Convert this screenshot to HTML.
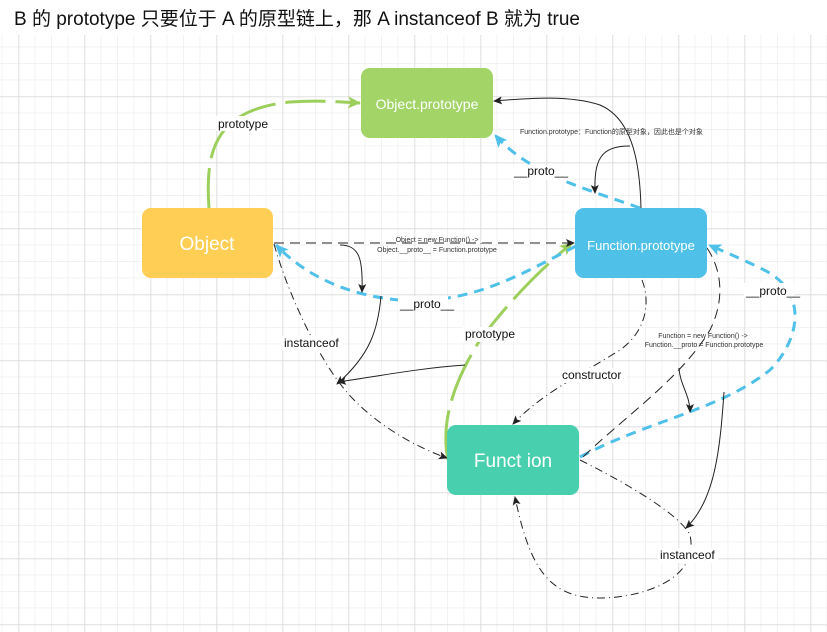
<!DOCTYPE html>
<html><head><meta charset="utf-8"><style>
html,body{margin:0;padding:0;background:#fff;width:827px;height:632px;overflow:hidden}
svg{display:block}
text{font-family:"Liberation Sans","Noto Sans CJK SC",sans-serif}
</style></head><body>
<svg width="827" height="632" viewBox="0 0 827 632" xmlns="http://www.w3.org/2000/svg">
<defs>
<pattern id="minor" x="2.2" y="14.2" width="16.5" height="16.5" patternUnits="userSpaceOnUse">
<path d="M16.5 0V16.5M0 16.5H16.5" stroke="#e6e6e6" stroke-width="1" fill="none"/></pattern>
<pattern id="major" x="18.7" y="30.7" width="66" height="66" patternUnits="userSpaceOnUse">
<path d="M0 0V66M0 0H66" stroke="#d4d4d4" stroke-width="1" fill="none"/></pattern>
<marker id="ab" markerWidth="10" markerHeight="10" refX="8" refY="5" orient="auto" markerUnits="userSpaceOnUse"><path d="M0,1 L9,5 L0,9 L2,5z" fill="#222"/></marker>
<marker id="ag" markerWidth="14" markerHeight="14" refX="12" refY="7" orient="auto" markerUnits="userSpaceOnUse"><path d="M0,1 L13,7 L0,13 L3,7z" fill="#9ccf5c"/></marker>
<marker id="ac" markerWidth="14" markerHeight="14" refX="12" refY="7" orient="auto" markerUnits="userSpaceOnUse"><path d="M0,1 L13,7 L0,13 L3,7z" fill="#4fc0e8"/></marker>
</defs>
<rect x="0" y="35" width="827" height="597" fill="url(#minor)"/>
<rect x="0" y="35" width="827" height="597" fill="url(#major)"/>
<text x="14" y="25" font-size="19" fill="#111">B 的 prototype 只要位于 A 的原型链上，那 A instanceof B 就为 true</text>

<!-- green prototype Object -> Object.prototype -->
<path d="M209,208 C205,150 215,110 290,102 C320,100 340,102 360,103" stroke="#9ccf5c" stroke-width="3" fill="none" stroke-dasharray="40,10" marker-end="url(#ag)"/>
<!-- green prototype Function -> Function.prototype -->
<path d="M448,460 C440,420 455,380 480,340 C510,300 540,270 572,243" stroke="#9ccf5c" stroke-width="3" fill="none" stroke-dasharray="50,10" marker-end="url(#ag)"/>

<!-- black dashed Object -> Function.prototype -->
<path d="M274,243 L574,243" stroke="#222" stroke-width="1" stroke-dasharray="10,6" fill="none" marker-end="url(#ab)"/>
<!-- blue proto Object -> Function.prototype -->
<path d="M576,246 C520,275 470,305 400,300 C340,295 300,270 276,245" stroke="#4fc0e8" stroke-width="3" stroke-dasharray="10,7" fill="none" marker-end="url(#ac)"/>
<!-- blue proto Function.prototype -> Object.prototype -->
<path d="M640,208 C590,190 530,175 495,135" stroke="#4fc0e8" stroke-width="3" stroke-dasharray="10,7" fill="none" marker-end="url(#ac)"/>
<!-- blue proto Function -> Function.prototype -->
<path d="M580,457 C650,420 720,410 770,370 C800,340 810,290 760,268 C740,258 720,250 709,245" stroke="#4fc0e8" stroke-width="3" stroke-dasharray="10,7" fill="none" marker-end="url(#ac)"/>

<!-- black Function.prototype -> Object.prototype -->
<path d="M641,208 C640,170 635,120 600,105 C570,95 530,98 494,101" stroke="#222" stroke-width="1" fill="none" marker-end="url(#ab)"/>
<path d="M630,146 C600,146 594,160 595,193" stroke="#222" stroke-width="1" fill="none" marker-end="url(#ab)"/>
<!-- small black curves -->
<path d="M340,245 C360,245 363,260 362,292" stroke="#222" stroke-width="1" fill="none" marker-end="url(#ab)"/>
<path d="M381,296 C378,330 370,355 337,384" stroke="#222" stroke-width="1" fill="none" marker-end="url(#ab)"/>
<path d="M465,365 C420,368 380,376 338,382" stroke="#222" stroke-width="1" fill="none" marker-end="url(#ab)"/>
<!-- instanceof Object -> Function -->
<path d="M274,244 C290,300 320,360 345,390 C370,420 410,445 447,458" stroke="#222" stroke-width="1" stroke-dasharray="8,4,1,4" fill="none" marker-end="url(#ab)"/>
<!-- constructor -->
<path d="M642,280 C650,300 648,330 620,350 C580,375 540,395 513,424" stroke="#222" stroke-width="1" stroke-dasharray="8,4,1,4" fill="none" marker-end="url(#ab)"/>
<!-- dashed Function.prototype right -> Function -->
<path d="M707,248 C722,270 725,300 710,330 C680,380 620,420 580,460" stroke="#222" stroke-width="1" stroke-dasharray="10,6" fill="none"/>
<path d="M679,368 C680,385 690,395 690,412" stroke="#222" stroke-width="1" fill="none" marker-end="url(#ab)"/>
<path d="M724,392 C720,450 715,500 686,528" stroke="#222" stroke-width="1" fill="none" marker-end="url(#ab)"/>
<!-- instanceof Function loop -->
<path d="M580,460 C630,485 680,515 690,535 C700,580 640,598 600,598 C550,598 530,570 515,497" stroke="#222" stroke-width="1" stroke-dasharray="8,4,1,4" fill="none" marker-end="url(#ab)"/>

<!-- boxes -->
<rect x="361" y="68" width="132" height="70" rx="9" fill="#a2d468"/>
<text x="427" y="109" font-size="14" fill="#fff" text-anchor="middle">Object.prototype</text>
<rect x="142" y="208" width="131" height="70" rx="9" fill="#ffce54"/>
<text x="207" y="250" font-size="19" fill="#fff" text-anchor="middle">Object</text>
<rect x="575" y="208" width="132" height="70" rx="9" fill="#4fc1e9"/>
<text x="641" y="250" font-size="13" fill="#fff" text-anchor="middle">Function.prototype</text>
<rect x="447" y="425" width="132" height="70" rx="9" fill="#48cfad"/>
<text x="513" y="467" font-size="19" fill="#fff" text-anchor="middle">Funct ion</text>

<!-- labels -->
<g font-size="12" fill="#111">
<rect x="216" y="116" width="56" height="15" fill="#fff"/><text x="218" y="128">prototype</text>
<rect x="512" y="165" width="52" height="15" fill="#fff"/><text x="514" y="175">__proto__</text>
<rect x="398" y="296" width="50" height="15" fill="#fff"/><text x="400" y="308">__proto__</text>
<rect x="744" y="283" width="50" height="15" fill="#fff"/><text x="746" y="295">__proto__</text>
<rect x="282" y="336" width="60" height="15" fill="#fff"/><text x="284" y="347">instanceof</text>
<rect x="463" y="327" width="56" height="15" fill="#fff"/><text x="465" y="338">prototype</text>
<rect x="560" y="368" width="66" height="15" fill="#fff"/><text x="562" y="379">constructor</text>
<rect x="658" y="548" width="60" height="15" fill="#fff"/><text x="660" y="559">instanceof</text>
</g>
<g font-size="7" fill="#333">
<text x="520" y="134">Function.prototype：Function的原型对象，因此也是个对象</text>
<text x="438" y="242" text-anchor="middle">__Object = new Function() -&gt; __</text>
<text x="437" y="252" text-anchor="middle">Object.__proto__ = Function.prototype</text>
<text x="703" y="338" text-anchor="middle">Function = new Function() -&gt;</text>
<text x="704" y="347" text-anchor="middle">Function.__proto = Function.prototype</text>
</g>
</svg>
</body></html>
